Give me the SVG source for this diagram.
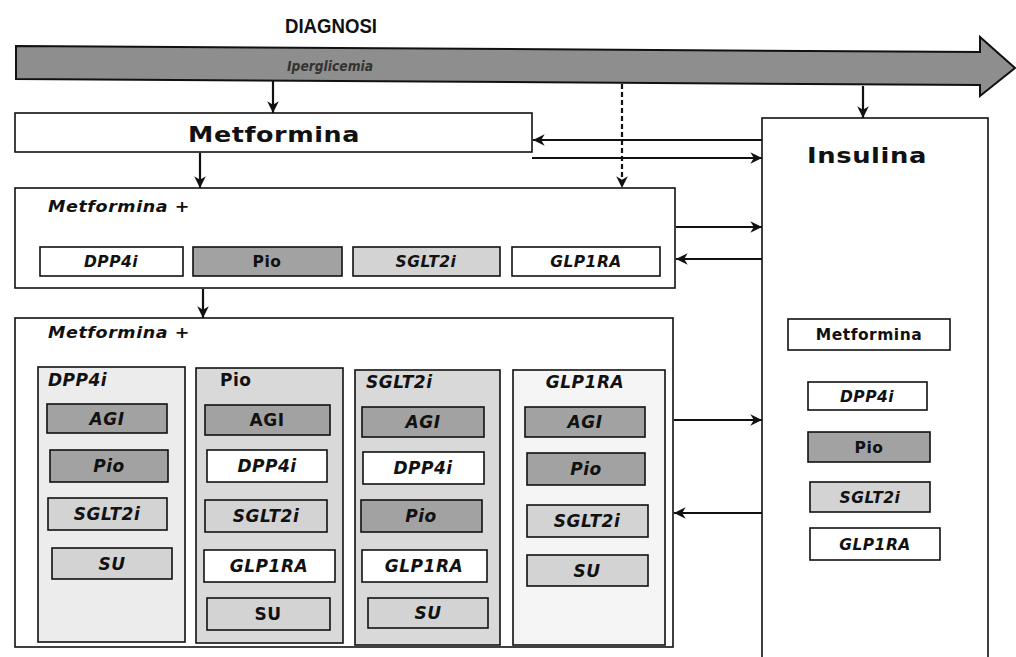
<svg xmlns="http://www.w3.org/2000/svg" width="1016" height="657" viewBox="0 0 1016 657">
<style>
.bx{stroke:#111;stroke-width:1.6}
.w{fill:#ffffff}
.d{fill:#a2a2a2}
.l{fill:#d3d3d3}
.c1{fill:#ececec}
.c2{fill:#d9d9d9}
.c4{fill:#f5f5f5}
.t{font-family:"DejaVu Sans","Liberation Sans",sans-serif;font-weight:bold;fill:#111;text-anchor:middle;font-size:17px;letter-spacing:0.5px}
.s{font-size:15.5px}
.i{font-style:italic}
.lft{text-anchor:start}
.cn{stroke:#111;stroke-width:2.2;fill:none}
</style>
<defs>
<marker id="ah" viewBox="0 0 12 12" refX="11" refY="6" markerWidth="14" markerHeight="14" markerUnits="userSpaceOnUse" orient="auto">
<path d="M1,1 L11,6 L1,11 L4,6 z" fill="#111"/>
</marker>
</defs>
<rect width="1016" height="657" fill="#ffffff"/>

<g id="diagnosi">
<text x="331" y="33" class="t" style="font-family:'Liberation Sans',Arial,sans-serif;font-size:20px;letter-spacing:0" textLength="92" lengthAdjust="spacingAndGlyphs">DIAGNOSI</text>
<polygon points="16,46 980,52 980,37 1015,68 980,96 980,85 16,79" fill="#8e8e8e" stroke="#111" stroke-width="2"/>
<text x="330" y="71" class="t i" style="fill:#333;font-size:14px;letter-spacing:0" textLength="86" lengthAdjust="spacingAndGlyphs">Iperglicemia</text>
</g>

<g id="metformina">
<rect x="15" y="113" width="517" height="39" class="bx w"/>
<text x="274" y="142" class="t" style="font-size:22px" textLength="172" lengthAdjust="spacingAndGlyphs">Metformina</text>
</g>

<g id="metformina-plus-1">
<rect x="15" y="188" width="660" height="100" class="bx w"/>
<text x="48" y="212" class="t i lft s" textLength="142" lengthAdjust="spacingAndGlyphs">Metformina +</text>
<rect x="40" y="247" width="143" height="29" class="bx w"/>
<text x="111" y="267" class="t i s">DPP4i</text>
<rect x="193" y="247" width="149" height="29" class="bx d"/>
<text x="267" y="267" class="t s">Pio</text>
<rect x="353" y="247" width="147" height="29" class="bx l"/>
<text x="426" y="267" class="t i s">SGLT2i</text>
<rect x="512" y="247" width="148" height="29" class="bx w"/>
<text x="586" y="267" class="t i s">GLP1RA</text>
</g>

<g id="metformina-plus-2">
<rect x="15" y="318" width="658" height="329" class="bx w"/>
<text x="48" y="338" class="t i lft s" textLength="142" lengthAdjust="spacingAndGlyphs">Metformina +</text>
</g>

<g id="col-dpp4i">
<rect x="38" y="367" width="147" height="275" class="bx c1"/>
<text x="48" y="386" class="t i lft">DPP4i</text>
<rect x="47" y="404" width="120" height="29" class="bx d"/>
<text x="107" y="425" class="t i">AGI</text>
<rect x="50" y="450" width="118" height="32" class="bx d"/>
<text x="109" y="472" class="t i">Pio</text>
<rect x="48" y="498" width="119" height="32" class="bx l"/>
<text x="107" y="520" class="t i">SGLT2i</text>
<rect x="52" y="548" width="120" height="31" class="bx l"/>
<text x="112" y="570" class="t i">SU</text>
</g>

<g id="col-pio">
<rect x="196" y="368" width="147" height="275" class="bx c2"/>
<text x="220" y="386" class="t lft">Pio</text>
<rect x="205" y="405" width="125" height="30" class="bx d"/>
<text x="267" y="426" class="t">AGI</text>
<rect x="207" y="450" width="120" height="32" class="bx w"/>
<text x="267" y="472" class="t i">DPP4i</text>
<rect x="205" y="500" width="122" height="32" class="bx l"/>
<text x="266" y="522" class="t i">SGLT2i</text>
<rect x="204" y="550" width="131" height="32" class="bx w"/>
<text x="269" y="572" class="t i">GLP1RA</text>
<rect x="207" y="598" width="123" height="32" class="bx l"/>
<text x="268" y="620" class="t">SU</text>
</g>

<g id="col-sglt2i">
<rect x="355" y="370" width="145" height="275" class="bx c2"/>
<text x="366" y="388" class="t i lft">SGLT2i</text>
<rect x="362" y="407" width="122" height="30" class="bx d"/>
<text x="423" y="428" class="t i">AGI</text>
<rect x="363" y="452" width="121" height="32" class="bx w"/>
<text x="423" y="474" class="t i">DPP4i</text>
<rect x="361" y="500" width="121" height="32" class="bx d"/>
<text x="421" y="522" class="t i">Pio</text>
<rect x="362" y="550" width="125" height="32" class="bx w"/>
<text x="424" y="572" class="t i">GLP1RA</text>
<rect x="368" y="598" width="120" height="30" class="bx l"/>
<text x="428" y="619" class="t i">SU</text>
</g>

<g id="col-glp1ra">
<rect x="513" y="370" width="152" height="275" class="bx c4"/>
<text x="585" y="388" class="t i">GLP1RA</text>
<rect x="525" y="407" width="120" height="30" class="bx d"/>
<text x="585" y="428" class="t i">AGI</text>
<rect x="527" y="453" width="118" height="32" class="bx d"/>
<text x="586" y="475" class="t i">Pio</text>
<rect x="527" y="505" width="121" height="32" class="bx l"/>
<text x="587" y="527" class="t i">SGLT2i</text>
<rect x="527" y="555" width="121" height="31" class="bx l"/>
<text x="587" y="577" class="t i">SU</text>
</g>

<g id="insulina">
<rect x="762" y="118" width="226" height="545" class="bx w"/>
<text x="867" y="163" class="t" style="font-size:22px" textLength="120" lengthAdjust="spacingAndGlyphs">Insulina</text>
<rect x="788" y="319" width="162" height="31" class="bx w"/>
<text x="869" y="340" class="t s">Metformina</text>
<rect x="808" y="382" width="119" height="28" class="bx w"/>
<text x="867" y="402" class="t i s">DPP4i</text>
<rect x="808" y="432" width="122" height="30" class="bx d"/>
<text x="869" y="453" class="t s">Pio</text>
<rect x="810" y="482" width="120" height="30" class="bx l"/>
<text x="870" y="503" class="t i s">SGLT2i</text>
<rect x="810" y="528" width="130" height="32" class="bx w"/>
<text x="875" y="550" class="t i s">GLP1RA</text>
</g>

<g id="connectors">
<line x1="273" y1="80" x2="273" y2="113" class="cn" marker-end="url(#ah)"/>
<line x1="622" y1="84" x2="622" y2="188" class="cn" stroke-dasharray="5,3" marker-end="url(#ah)"/>
<line x1="863" y1="86" x2="863" y2="118" class="cn" marker-end="url(#ah)"/>
<line x1="200" y1="153" x2="200" y2="188" class="cn" marker-end="url(#ah)"/>
<line x1="203" y1="289" x2="203" y2="318" class="cn" marker-end="url(#ah)"/>
<line x1="762" y1="140" x2="533" y2="140" class="cn" marker-end="url(#ah)"/>
<line x1="532" y1="158" x2="762" y2="158" class="cn" marker-end="url(#ah)"/>
<line x1="676" y1="227" x2="762" y2="227" class="cn" marker-end="url(#ah)"/>
<line x1="762" y1="259" x2="676" y2="259" class="cn" marker-end="url(#ah)"/>
<line x1="674" y1="420" x2="762" y2="420" class="cn" marker-end="url(#ah)"/>
<line x1="762" y1="513" x2="674" y2="513" class="cn" marker-end="url(#ah)"/>
</g>
</svg>
